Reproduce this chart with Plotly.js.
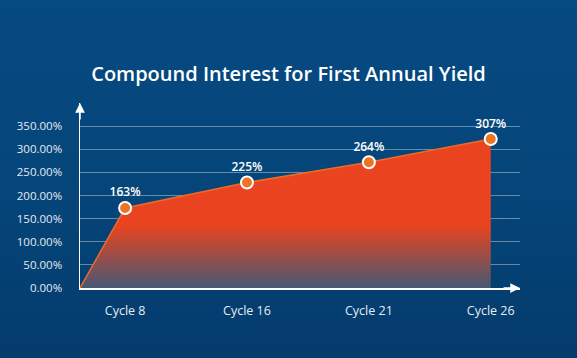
<!DOCTYPE html>
<html>
<head>
<meta charset="utf-8">
<script src="https://cdn.plot.ly/plotly-3.0.1.min.js"></script>
<style>
  html, body { margin: 0; padding: 0; }
  body { width: 577px; height: 358px; background: linear-gradient(180deg, #064a82 0%, #054579 55%, #043b6c 100%); }
  #chart { width: 577px; height: 358px; }
</style>
</head>
<body>
<div id="chart"></div>
<script>
// Data
const categories = ['Cycle 8', 'Cycle 16', 'Cycle 21', 'Cycle 26'];
const categoryPos = [1, 2, 3, 4];
const values = [173, 228, 272, 322];          // plotted heights (%)
const valueLabels = ['163%', '225%', '264%', '307%'];
const yTicks = [0, 50, 100, 150, 200, 250, 300, 350];
const yTickText = ['0.00%', '50.00%', '100.00%', '150.00%', '200.00%', '250.00%', '300.00%', '350.00%'];

const xRange = [0.63, 4.24];
const yRange = [0, 400];

const areaTrace = {
  type: 'scatter',
  mode: 'lines',
  x: [xRange[0]].concat(categoryPos),
  y: [0].concat(values),
  fill: 'tozeroy',
  fillgradient: {
    type: 'vertical',
    colorscale: [[0, 'rgba(70,88,115,1)'], [0.42, '#e9441f'], [1, '#ea4320']]
  },
  line: { color: '#ef6a2a', width: 1.5 },
  hoverinfo: 'skip',
  showlegend: false
};

const pointTrace = {
  type: 'scatter',
  mode: 'markers+text',
  x: categoryPos,
  y: values,
  text: valueLabels,
  textposition: 'top center',
  textfont: { family: 'Open Sans, sans-serif', size: 12, color: '#ffffff', weight: 600 },
  marker: { size: 12, color: '#ec7424', line: { color: '#ffffff', width: 2 } },
  cliponaxis: false,
  showlegend: false
};

const layout = {
  width: 577,
  height: 358,
  paper_bgcolor: 'rgba(0,0,0,0)',
  plot_bgcolor: 'rgba(0,0,0,0)',
  margin: { l: 80, r: 57, t: 103, b: 70 },
  title: {
    text: 'Compound Interest for First Annual Yield',
    font: { family: 'Open Sans, sans-serif', size: 20, color: '#ffffff', weight: 600 },
    x: 0.5, xanchor: 'center',
    y: 0.793, yanchor: 'middle', yref: 'container'
  },
  xaxis: {
    range: xRange,
    tickvals: categoryPos,
    ticktext: categories,
    showgrid: false,
    zeroline: false,
    showline: true,
    linecolor: '#ffffff',
    linewidth: 1.5,
    ticks: '',
    ticklabelstandoff: 10,
    tickfont: { family: 'Open Sans, sans-serif', size: 12.5, color: '#e6ebf2' },
    fixedrange: true
  },
  yaxis: {
    range: yRange,
    tickvals: yTicks,
    ticktext: yTickText,
    showgrid: true,
    gridcolor: 'rgba(255,255,255,0.38)',
    gridwidth: 1,
    zeroline: false,
    showline: true,
    linecolor: '#ffffff',
    linewidth: 1.5,
    ticks: '',
    ticklabelstandoff: 14,
    tickfont: { family: 'Open Sans, sans-serif', size: 11.5, color: '#e6ebf2' },
    fixedrange: true
  },
  annotations: [
    { xref: 'paper', yref: 'paper', x: 0, y: 1, ax: 0, ay: 18, text: '', showarrow: true,
      arrowhead: 2, arrowsize: 1.3, arrowwidth: 1.5, arrowcolor: '#ffffff' },
    { xref: 'paper', yref: 'paper', x: 1, y: 0, ax: -18, ay: 0, text: '', showarrow: true,
      arrowhead: 2, arrowsize: 1.3, arrowwidth: 1.5, arrowcolor: '#ffffff' }
  ],
  showlegend: false
};

Plotly.newPlot('chart', [areaTrace, pointTrace], layout, { displayModeBar: false, staticPlot: true });
</script>
</body>
</html>
